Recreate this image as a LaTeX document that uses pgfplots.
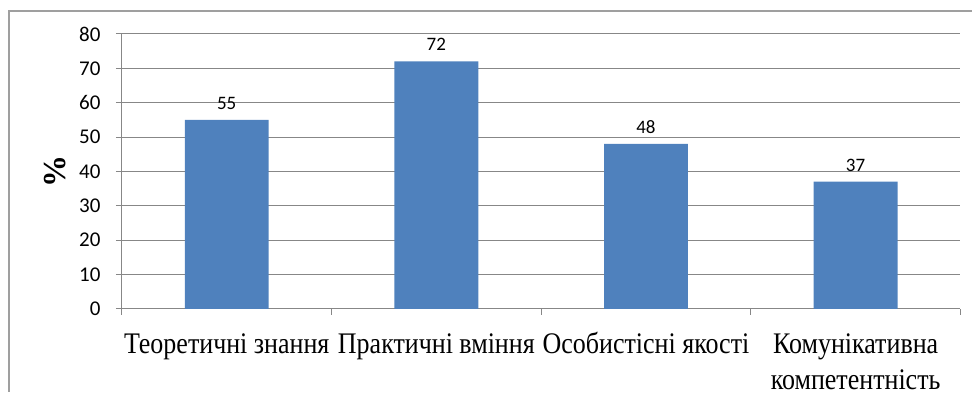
\documentclass[border=0pt]{standalone}
\usepackage{fontspec}
\setmainfont{Liberation Serif}
\newfontfamily\calibri{Carlito}
\usepackage{graphicx}
\usepackage{pgfplots}
\pgfplotsset{compat=1.18}
\definecolor{barblue}{HTML}{4F81BD}
\definecolor{gridgray}{HTML}{878787}
\newcommand\lab[1]{\scalebox{1}[1.15]{\begin{tabular}{@{}c@{}}#1\end{tabular}}}
\begin{document}
\begin{tikzpicture}[x=1pt,y=1pt]
\path (0,0) rectangle (973,392);
\draw[gridgray!80, line width=1.2pt] (9,0) -- (9,381) -- (973,381);
\begin{axis}[
  at={(122pt,83pt)}, anchor=south west,
  scale only axis, width=839pt, height=275pt,
  xmin=-0.5, xmax=3.5, ymin=0, ymax=80,
  ytick={0,10,...,80},
  xtick={-0.5,0.5,1.5,2.5,3.5},
  xticklabels={},
  extra x ticks={0,1,2,3},
  extra x tick labels={\lab{Теоретичні знання},\lab{Практичні вміння},\lab{Особистісні якості},\lab{Комунікативна\\компетентність}},
  extra x tick style={major tick length=0pt, grid=none,
    tick label style={font=\fontsize{26}{32}\selectfont, yshift=-15pt}},
  ymajorgrids,
  grid style={gridgray, line width=1pt},
  axis lines*=left,
  axis line style={-, gridgray, line width=1pt},
  tick style={gridgray, line width=1pt},
  tick align=outside,
  major tick length=6pt,
  yticklabel style={font=\calibri\fontsize{21}{21}\selectfont, xshift=-12pt},
  /pgf/number format/assume math mode=true,
  ylabel={\textbf{\%}},
  ylabel style={at={(axis description cs:-0.08,0.5)}, anchor=center, rotate=0, font=\fontsize{32}{32}\selectfont},
  nodes near coords,
  every node near coord/.append style={font=\calibri\fontsize{19}{19}\selectfont, yshift=7pt},
]
\addplot[ybar, bar width=84pt, fill=barblue, draw=none] coordinates {(0,55) (1,72) (2,48) (3,37)};
\end{axis}
\end{tikzpicture}
\end{document}
